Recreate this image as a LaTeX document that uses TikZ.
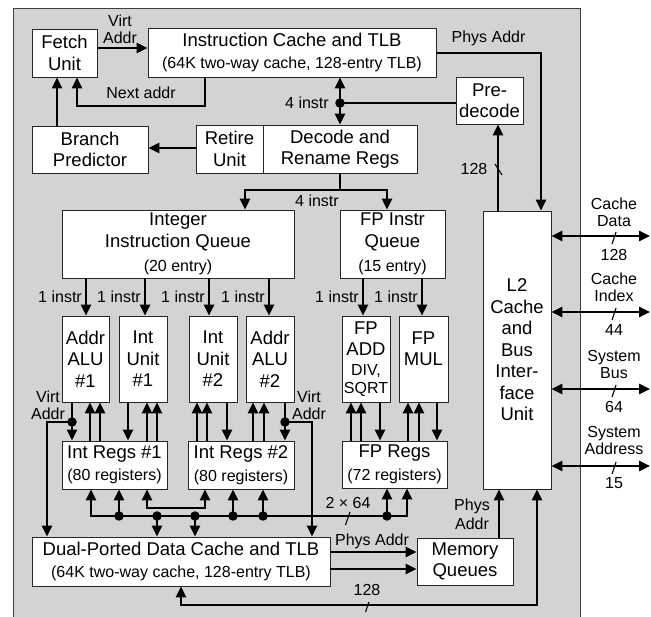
\documentclass[tikz,border=0pt]{standalone}
\usepackage{fontspec}
\setmainfont{Liberation Sans}
\usetikzlibrary{arrows.meta}
\newcommand{\mainf}{\fontsize{18.5}{21.5}\selectfont}
\newcommand{\subf}{\fontsize{16}{18}\selectfont}
\newcommand{\labf}{\fontsize{16}{17}\selectfont}
\definecolor{bggray}{RGB}{211,211,211}
\tikzset{
  box/.style={draw=black!85, line width=0.7pt, fill=white, inner sep=0pt, align=center, font=\mainf},
  conn/.style={line width=2.5pt, line join=miter, line cap=butt},
  arr/.style={conn, -{Triangle[length=11pt,width=10pt]}},
  darr/.style={conn, {Triangle[length=11pt,width=10pt]}-{Triangle[length=11pt,width=10pt]}},
  dotc/.style={circle, fill=black, inner sep=0pt, minimum size=9.5pt},
  lab/.style={font=\labf, inner sep=0pt, align=center},
  slashst/.style={line width=1.1pt}
}
\begin{document}
\begin{tikzpicture}[x=1pt,y=-1pt]
\useasboundingbox (0,0) rectangle (651,617);
\fill[bggray] (13,8) rectangle (580,617);
\draw[black!75, line width=0.8pt] (13,617) -- (13,8) -- (580,8) -- (580,617);

% boxes
\node[box, minimum width=65, minimum height=48] (fetch) at (64.5,53) {Fetch\\Unit};
\node[box, minimum width=288, minimum height=49] (icache) at (292,52.5) {Instruction Cache and TLB\\[1pt]{\subf (64K two-way cache, 128-entry TLB)}};
\node[box, minimum width=116, minimum height=47] (branch) at (90,149.5) {Branch\\Predictor};
\node[box, minimum width=67, minimum height=48] (retire) at (229.5,149) {Retire\\Unit};
\node[box, minimum width=154, minimum height=48] (decode) at (340,149) {Decode and\\Rename Regs};
\node[box, minimum width=67, minimum height=47] (predec) at (489.5,100.5) {Pre-\\decode};
\node[box, minimum width=68, minimum height=278] (l2) at (517,350) {L2\\Cache\\and\\Bus\\Inter-\\face\\Unit};
\node[box, minimum width=232, minimum height=68] (iq) at (178,244) {Integer\\Instruction Queue\\[3pt]{\subf (20 entry)}};
\node[box, minimum width=105, minimum height=68] (fpq) at (392.5,244) {FP Instr\\Queue\\[3pt]{\subf (15 entry)}};
\node[box, minimum width=47, minimum height=86] (alu1) at (85.5,359) {Addr\\ALU\\\#1};
\node[box, minimum width=48, minimum height=86] (iu1) at (143,359) {Int\\Unit\\\#1};
\node[box, minimum width=48, minimum height=86] (iu2) at (213,359) {Int\\Unit\\\#2};
\node[box, minimum width=48, minimum height=86] (alu2) at (270,359) {Addr\\ALU\\\#2};
\node[box, minimum width=48, minimum height=86] (fpadd) at (366,359) {FP\\ADD\\[-2pt]{\labf DIV,}\\[-3pt]{\labf SQRT}};
\node[box, minimum width=49, minimum height=86] (fpmul) at (423.5,359) {};
\node[font=\mainf, align=center, inner sep=0pt] at (423.5,348.5) {FP\\MUL};
\node[box, minimum width=105, minimum height=48] (ir1) at (114.5,465) {Int Regs \#1\\[1pt]{\subf (80 registers)}};
\node[box, minimum width=106, minimum height=48] (ir2) at (241,465) {Int Regs \#2\\[1pt]{\subf (80 registers)}};
\node[box, minimum width=105, minimum height=47] (fpr) at (394.5,464.5) {FP Regs\\[1pt]{\subf (72 registers)}};
\node[box, minimum width=298, minimum height=49] (dc) at (181,561.5) {Dual-Ported Data Cache and TLB\\[1pt]{\subf (64K two-way cache, 128-entry TLB)}};
\node[box, minimum width=96, minimum height=47] (mq) at (465,561.5) {Memory\\Queues};

% front end
\draw[arr] (fetch.east |- 0,48) -- (icache.west |- 0,48);
\node[lab] at (120,29.5) {Virt\\Addr};
\draw[arr] (205,0 |- icache.south) -- (205,106) -- (77,106) -- (77,0 |- fetch.south);
\node[lab] at (141,93) {Next addr};
\draw[arr] (57,0 |- branch.north) -- (57,0 |- fetch.south);
\draw[arr] (retire.west |- 0,148) -- (branch.east |- 0,148);
\draw[darr] (340,0 |- icache.south) -- (340,0 |- decode.north);
\node[dotc] (d4) at (340,103) {};
\draw[conn] (d4.center) -- (predec.west |- d4);
\node[lab] at (307,103) {4 instr};
\draw[arr] (icache.east |- 0,53) -- (541,53) -- (541,0 |- l2.north);
\node[lab] at (488.5,38) {Phys Addr};
\draw[arr] (498,0 |- l2.north) -- (498,0 |- predec.south);
\node[lab] at (474,169) {128};
\draw[slashst] (495,164) -- (502,175);

% dispatch
\draw[conn] (340,0 |- decode.south) -- (340,190);
\draw[arr] (340,190) -- (245,190) -- (245,0 |- iq.north);
\draw[arr] (340,190) -- (387,190) -- (387,0 |- fpq.north);
\node[lab] at (317,201) {4 instr};

% issue
\foreach \xx/\u in {86/alu1,145/iu1,209/iu2,269/alu2}{
  \draw[arr] (\xx,0 |- iq.south) -- (\xx,0 |- \u.north);
  \node[lab, anchor=east] at (\xx-4,297) {1 instr};
}
\foreach \xx/\u in {363/fpadd,422/fpmul}{
  \draw[arr] (\xx,0 |- fpq.south) -- (\xx,0 |- \u.north);
  \node[lab, anchor=east] at (\xx-4,297) {1 instr};
}

% units <-> registers
\foreach \xx/\u/\r in {72/alu1/ir1,128/iu1/ir1,227/iu2/ir2,285/alu2/ir2,380/fpadd/fpr,437/fpmul/fpr}{
  \draw[arr] (\xx,0 |- \u.south) -- (\xx,0 |- \r.north);
}
\foreach \xx/\u/\r in {90/alu1/ir1,100/alu1/ir1,147/iu1/ir1,157/iu1/ir1,197/iu2/ir2,207/iu2/ir2,253/alu2/ir2,264/alu2/ir2,351/fpadd/fpr,361/fpadd/fpr,408/fpmul/fpr,419/fpmul/fpr}{
  \draw[arr] (\xx,0 |- \r.north) -- (\xx,0 |- \u.south);
}
\node[dotc] (dl) at (72,422) {};
\node[dotc] (dr) at (285,422) {};
\draw[arr] (dl.center) -- (47,422) -- (47,0 |- dc.north);
\draw[arr] (dr.center) -- (312,422) -- (312,0 |- dc.north);
\node[lab] at (48,405) {Virt\\Addr};
\node[lab] at (309,405) {Virt\\Addr};

% register bus
\draw[arr] (387,516) -- (91,516) -- (91,0 |- ir1.south);
\draw[arr] (387,516) -- (407,516) -- (407,0 |- fpr.south);
\foreach \xx in {119,157,195,233,263,387}{ \node[dotc] (b\xx) at (\xx,516) {}; }
\draw[arr] (b119.center) -- (119,0 |- ir1.south);
\draw[arr] (b233.center) -- (233,0 |- ir2.south);
\draw[arr] (b263.center) -- (263,0 |- ir2.south);
\draw[arr] (b387.center) -- (387,0 |- fpr.south);
\draw[arr] (b157.center) -- (157,0 |- dc.north);
\draw[arr] (b195.center) -- (195,0 |- dc.north);
\draw[darr] (147,0 |- ir1.south) -- (147,508) -- (205,508) -- (205,0 |- ir2.south);
\node[lab] at (348,503) {2 × 64};
\draw[slashst] (345.5,525) -- (350,512);

% memory side
\draw[arr] (dc.east |- 0,552) -- (mq.west |- 0,552);
\draw[arr] (dc.east |- 0,569) -- (mq.west |- 0,569);
\node[lab] at (372,541) {Phys Addr};
\draw[arr] (499,0 |- mq.north) -- (499,0 |- l2.south);
\node[lab] at (472,514) {Phys\\[2pt]Addr};
\draw[darr] (181,0 |- dc.south) -- (181,605) -- (537,605) -- (537,0 |- l2.south);
\node[lab] at (367,590) {128};
\draw[slashst] (365.5,612) -- (369,602);

% external
\coordinate (e1) at (650,236);
\coordinate (e2) at (650,312);
\coordinate (e3) at (650,389);
\coordinate (e4) at (650,466);
\draw[darr] (l2.east |- e1) -- (e1);
\draw[darr] (l2.east |- e2) -- (e2);
\draw[darr] (l2.east |- e3) -- (e3);
\draw[darr] (l2.east |- e4) -- (e4);
\node[lab] at (614,212.5) {Cache\\Data};
\node[lab] at (614,255) {128};
\node[lab] at (614,287.5) {Cache\\Index};
\node[lab] at (614,330) {44};
\node[lab] at (614,364) {System\\Bus};
\node[lab] at (614,407) {64};
\node[lab] at (614,440.5) {System\\Address};
\node[lab] at (614,483) {15};
\foreach \yy in {236,312,389,466}{ \draw[slashst] (612,\yy+8) -- (616,\yy-4); }
\end{tikzpicture}
\end{document}
